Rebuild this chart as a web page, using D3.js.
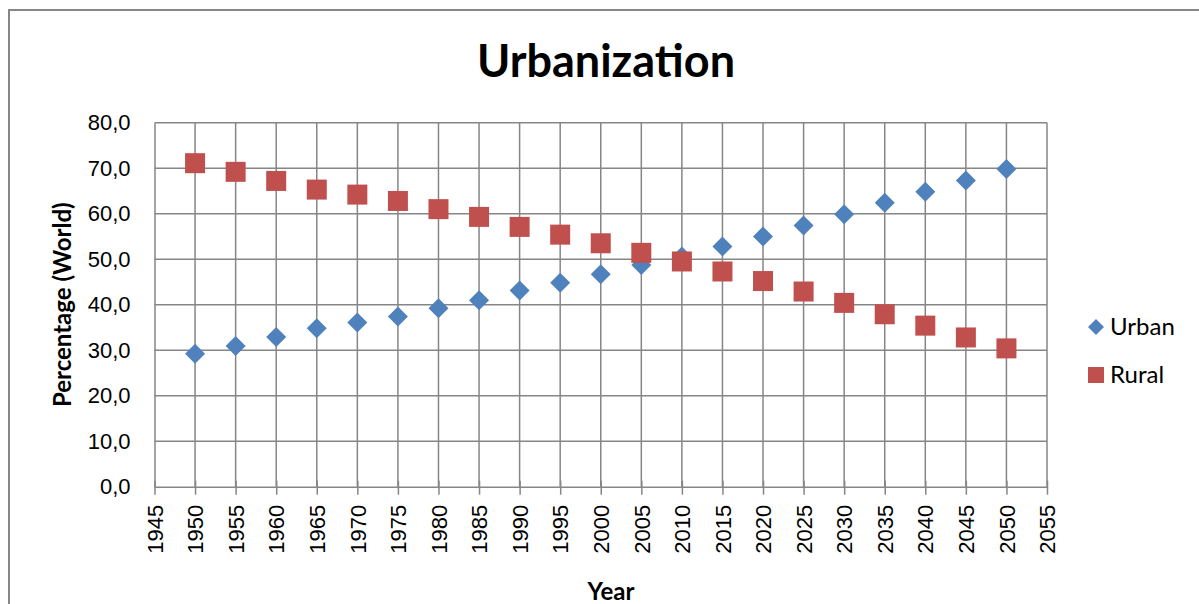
<!DOCTYPE html>
<html>
<head>
<meta charset="utf-8">
<script src="https://cdn.jsdelivr.net/npm/d3@7"></script>
<style>
  body { margin: 0; background: #fff; }
  svg { display: block; font-family: Lato, "Open Sans", sans-serif; }
</style>
</head>
<body>
<svg id="chart" width="1199" height="604"></svg>
<script>
// Data
const years = [1950, 1955, 1960, 1965, 1970, 1975, 1980, 1985, 1990, 1995, 2000,
               2005, 2010, 2015, 2020, 2025, 2030, 2035, 2040, 2045, 2050];
const urban = [29.2, 30.9, 32.9, 34.8, 36.1, 37.4, 39.2, 41.0, 43.1, 44.8, 46.7,
               48.7, 50.6, 52.8, 55.0, 57.4, 59.9, 62.4, 64.8, 67.3, 69.8];
const rural = [71.1, 69.2, 67.2, 65.3, 64.2, 62.8, 61.0, 59.3, 57.1, 55.4, 53.5,
               51.4, 49.5, 47.3, 45.2, 42.9, 40.4, 37.9, 35.4, 32.8, 30.4];
const xTicks = d3.range(1945, 2056, 5);
const yTicks = d3.range(0, 81, 10);

const svg = d3.select("#chart");
const gridColor = "#868686";

// outer frame (runs off the right and bottom edges)
svg.append("path")
    .attr("d", "M9,604 L9,10 L1199,10")
    .attr("fill", "none")
    .attr("stroke", gridColor)
    .attr("stroke-width", 2);

// plot area
const plotL = 154.5, plotR = 1047, plotT = 122.7, plotB = 486.7;

const x = d3.scaleLinear().domain([1945, 2055]).range([plotL, plotR]);
const y = d3.scaleLinear().domain([0, 80]).range([plotB, plotT]);

// horizontal gridlines
svg.append("g")
    .selectAll("line")
    .data(yTicks.filter(d => d > 0))
    .join("line")
    .attr("x1", plotL).attr("x2", plotR)
    .attr("y1", d => y(d)).attr("y2", d => y(d))
    .attr("stroke", gridColor).attr("stroke-width", 1.5);

// vertical gridlines
svg.append("g")
    .selectAll("line")
    .data(xTicks.filter(d => d > 1945))
    .join("line")
    .attr("x1", d => x(d)).attr("x2", d => x(d))
    .attr("y1", plotT).attr("y2", plotB)
    .attr("stroke", gridColor).attr("stroke-width", 1.5);

// y axis
const yAxis = svg.append("g")
    .attr("transform", `translate(${plotL},0)`)
    .call(d3.axisLeft(y).tickValues(yTicks).tickSize(0).tickPadding(24)
        .tickFormat(d => d3.format(".1f")(d).replace(".", ",")));
yAxis.select(".domain").attr("stroke", gridColor).attr("stroke-width", 1.5);
yAxis.selectAll("text").attr("font-size", 22).attr("fill", "#000");

// x axis
const xAxis = svg.append("g")
    .attr("transform", `translate(0,${plotB})`)
    .call(d3.axisBottom(x).tickValues(xTicks).tickSize(8).tickSizeOuter(0)
        .tickFormat(d3.format("d")));
xAxis.select(".domain").attr("stroke", gridColor).attr("stroke-width", 1.5);
xAxis.selectAll(".tick line").attr("stroke", gridColor).attr("stroke-width", 1.5).attr("y1", -6);
xAxis.selectAll("text")
    .attr("font-size", 22)
    .attr("fill", "#000")
    .attr("text-anchor", "end")
    .attr("transform", "rotate(-90)")
    .attr("x", -18)
    .attr("y", 0)
    .attr("dy", "0.35em");

// urban diamonds
const diamond = "M0,-10 L10,0 L0,10 L-10,0 Z";
svg.append("g")
    .selectAll("path")
    .data(years.map((yr, i) => ({ yr, v: urban[i] })))
    .join("path")
    .attr("d", diamond)
    .attr("transform", d => `translate(${x(d.yr)},${y(d.v)})`)
    .attr("fill", "#4F81BD");

// rural squares (drawn over the diamonds)
svg.append("g")
    .selectAll("rect")
    .data(years.map((yr, i) => ({ yr, v: rural[i] })))
    .join("rect")
    .attr("x", d => x(d.yr) - 10)
    .attr("y", d => y(d.v) - 10)
    .attr("width", 20).attr("height", 20)
    .attr("fill", "#C0504D");

// title
svg.append("text")
    .attr("x", 606).attr("y", 77)
    .attr("text-anchor", "middle")
    .attr("font-size", 45).attr("font-weight", "bold")
    .text("Urbanization");

// axis titles
svg.append("text")
    .attr("transform", `translate(71,${(plotT + plotB) / 2}) rotate(-90)`)
    .attr("text-anchor", "middle")
    .attr("font-size", 24).attr("font-weight", "bold")
    .text("Percentage (World)");

svg.append("text")
    .attr("x", 611).attr("y", 600)
    .attr("text-anchor", "middle")
    .attr("font-size", 24).attr("font-weight", "bold")
    .text("Year");

// legend
const legend = svg.append("g").attr("transform", "translate(1096,0)");
legend.append("path")
    .attr("d", "M0,-8 L8,0 L0,8 L-8,0 Z")
    .attr("transform", "translate(0,327)")
    .attr("fill", "#4F81BD");
legend.append("text")
    .attr("x", 14).attr("y", 327).attr("dy", "0.35em")
    .attr("font-size", 24).text("Urban");
legend.append("rect")
    .attr("x", -8).attr("y", 367).attr("width", 16).attr("height", 16)
    .attr("fill", "#C0504D");
legend.append("text")
    .attr("x", 14).attr("y", 375).attr("dy", "0.35em")
    .attr("font-size", 24).text("Rural");
</script>
</body>
</html>
